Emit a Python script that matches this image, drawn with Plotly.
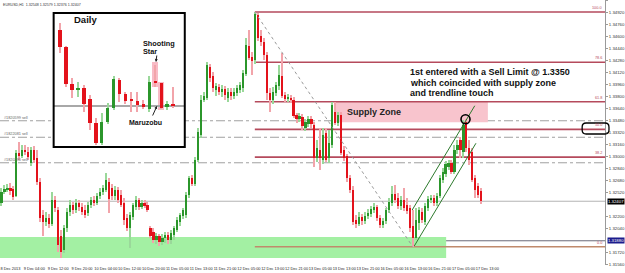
import plotly.graph_objects as go

# ---------------- data ----------------
SYMBOL = "EURUSD,H1"
TIME_LABELS = ["8 Dec 2013", "9 Dec 04:00", "9 Dec 12:00", "9 Dec 20:00", "10 Dec 04:00",
               "10 Dec 12:00", "10 Dec 20:00", "11 Dec 05:00", "11 Dec 13:00", "11 Dec 21:00",
               "12 Dec 05:00", "12 Dec 13:00", "12 Dec 21:00", "13 Dec 05:00", "13 Dec 13:00",
               "13 Dec 21:00", "16 Dec 05:00", "16 Dec 13:00", "16 Dec 21:00", "17 Dec 05:00",
               "17 Dec 13:00"]
LABEL_STEP = 8  # one time label every 8 hourly bars

OPEN = [1.3238, 1.3253, 1.3257, 1.3258, 1.3257, 1.3248, 1.3305, 1.3301, 1.3309, 1.3306,
        1.3292, 1.3309, 1.3298, 1.3266, 1.3222, 1.3213, 1.3218, 1.3210, 1.3242, 1.3229,
        1.3194, 1.3176, 1.3205, 1.3226, 1.3236, 1.3229, 1.3238, 1.3233, 1.3229, 1.3225,
        1.3236, 1.3242, 1.3238, 1.3248, 1.3253, 1.3256, 1.3266, 1.3258, 1.3248, 1.3256,
        1.3249, 1.3238, 1.3218, 1.3205, 1.3220, 1.3233, 1.3242, 1.3233, 1.3238, 1.3236,
        1.3205, 1.3200, 1.3189, 1.3194, 1.3186, 1.3192, 1.3196, 1.3189, 1.3196, 1.3202,
        1.3213, 1.3221, 1.3222, 1.3249, 1.3272, 1.3264, 1.3296, 1.3329, 1.3376, 1.3378,
        1.3420, 1.3408, 1.3389, 1.3393, 1.3386, 1.3390, 1.3378, 1.3386, 1.3381, 1.3385,
        1.3389, 1.3392, 1.3410, 1.3448, 1.3433, 1.3429, 1.3489, 1.3461, 1.3453, 1.3436,
        1.3385, 1.3376, 1.3385, 1.3394, 1.3408, 1.3382, 1.3377, 1.3378, 1.3376, 1.3356,
        1.3350, 1.3353, 1.3338, 1.3344, 1.3350, 1.3342, 1.3298, 1.3309, 1.3296, 1.3332,
        1.3298, 1.3316, 1.3360, 1.3345, 1.3356, 1.3309, 1.3301, 1.3272, 1.3256, 1.3216,
        1.3210, 1.3220, 1.3214, 1.3221, 1.3224, 1.3229, 1.3233, 1.3218, 1.3209, 1.3214,
        1.3229, 1.3238, 1.3250, 1.3245, 1.3234, 1.3242, 1.3236, 1.3232, 1.3208, 1.3192,
        1.3212, 1.3226, 1.3213, 1.3232, 1.3242, 1.3245, 1.3238, 1.3248, 1.3269, 1.3277,
        1.3286, 1.3292, 1.3280, 1.3309, 1.3322, 1.3306, 1.3346, 1.3312, 1.3306, 1.3272,
        1.3261, 1.32548]
HIGH = [1.3258, 1.3262, 1.3264, 1.3265, 1.3261, 1.3309, 1.3320, 1.3316, 1.3316, 1.3313,
        1.3313, 1.3314, 1.3309, 1.3272, 1.3229, 1.3226, 1.3224, 1.3253, 1.3248, 1.3233,
        1.3202, 1.3209, 1.3232, 1.3242, 1.3240, 1.3244, 1.3242, 1.3238, 1.3236, 1.3240,
        1.3246, 1.3248, 1.3252, 1.3258, 1.3262, 1.3278, 1.3272, 1.3264, 1.3261, 1.3260,
        1.3256, 1.3245, 1.3224, 1.3226, 1.3238, 1.3248, 1.3245, 1.3242, 1.3242, 1.3240,
        1.3208, 1.3205, 1.3198, 1.3197, 1.3197, 1.3200, 1.3200, 1.3202, 1.3208, 1.3220,
        1.3225, 1.3232, 1.3253, 1.3274, 1.3276, 1.3300, 1.3338, 1.3382, 1.3386, 1.3426,
        1.3424, 1.3413, 1.3398, 1.3397, 1.3396, 1.3394, 1.3392, 1.3392, 1.3392, 1.3396,
        1.3400, 1.3416, 1.3458, 1.3469, 1.3440, 1.3493, 1.3492, 1.3469, 1.3458, 1.3440,
        1.3392, 1.3393, 1.3400, 1.3422, 1.3438, 1.3386, 1.3384, 1.3382, 1.3380, 1.3358,
        1.3358, 1.3357, 1.3350, 1.3354, 1.3354, 1.3346, 1.3322, 1.3338, 1.3338, 1.3338,
        1.3336, 1.3373, 1.3373, 1.3360, 1.3360, 1.3314, 1.3304, 1.3276, 1.3261, 1.3222,
        1.3226, 1.3224, 1.3226, 1.3230, 1.3234, 1.3238, 1.3236, 1.3222, 1.3218, 1.3232,
        1.3245, 1.3261, 1.3262, 1.3252, 1.3248, 1.3258, 1.3245, 1.3236, 1.3229, 1.3232,
        1.3233, 1.3232, 1.3238, 1.3248, 1.3249, 1.3249, 1.3252, 1.3276, 1.3285, 1.3294,
        1.3296, 1.3296, 1.3316, 1.3322, 1.3326, 1.3349, 1.3350, 1.3322, 1.3312, 1.3276,
        1.3265, 1.32579]
LOW = [1.3234, 1.3250, 1.3253, 1.3249, 1.3242, 1.3246, 1.3296, 1.3298, 1.3302, 1.3296,
       1.3288, 1.3292, 1.3262, 1.3213, 1.3194, 1.3208, 1.3205, 1.3208, 1.3226, 1.3173,
       1.3165, 1.3172, 1.3200, 1.3221, 1.3224, 1.3225, 1.3228, 1.3222, 1.3218, 1.3221,
       1.3232, 1.3234, 1.3236, 1.3244, 1.3249, 1.3253, 1.3225, 1.3242, 1.3242, 1.3238,
       1.3233, 1.3209, 1.3201, 1.3178, 1.3216, 1.3229, 1.3229, 1.3230, 1.3232, 1.3226,
       1.3192, 1.3185, 1.3184, 1.3181, 1.3182, 1.3185, 1.3184, 1.3184, 1.3189, 1.3200,
       1.3208, 1.3217, 1.3218, 1.3245, 1.3261, 1.3261, 1.3293, 1.3325, 1.3373, 1.3376,
       1.3400, 1.3386, 1.3381, 1.3382, 1.3380, 1.3376, 1.3373, 1.3376, 1.3377, 1.3381,
       1.3385, 1.3386, 1.3408, 1.3429, 1.3409, 1.3424, 1.3454, 1.3448, 1.3429, 1.3376,
       1.3360, 1.3370, 1.3381, 1.3389, 1.3378, 1.3373, 1.3373, 1.3372, 1.3352, 1.3345,
       1.3346, 1.3336, 1.3334, 1.3340, 1.3338, 1.3286, 1.3293, 1.3282, 1.3290, 1.3293,
       1.3292, 1.3312, 1.3342, 1.3341, 1.3302, 1.3294, 1.3266, 1.3252, 1.3209, 1.3205,
       1.3208, 1.3209, 1.3210, 1.3217, 1.3220, 1.3225, 1.3214, 1.3205, 1.3205, 1.3210,
       1.3225, 1.3234, 1.3238, 1.3230, 1.3229, 1.3228, 1.3224, 1.3200, 1.3180, 1.3189,
       1.3202, 1.3212, 1.3209, 1.3228, 1.3238, 1.3234, 1.3234, 1.3245, 1.3265, 1.3273,
       1.3282, 1.3277, 1.3277, 1.3304, 1.3298, 1.3298, 1.3306, 1.3289, 1.3266, 1.3245,
       1.3245, 1.32376]
CLOSE = [1.3253, 1.3257, 1.3258, 1.3254, 1.3246, 1.3305, 1.3301, 1.3309, 1.3306, 1.3300,
         1.3309, 1.3296, 1.3266, 1.3218, 1.3213, 1.3218, 1.3210, 1.3242, 1.3232, 1.3182,
         1.3173, 1.3205, 1.3226, 1.3236, 1.3229, 1.3238, 1.3233, 1.3226, 1.3222, 1.3236,
         1.3242, 1.3238, 1.3248, 1.3253, 1.3258, 1.3269, 1.3244, 1.3248, 1.3256, 1.3242,
         1.3236, 1.3216, 1.3205, 1.3222, 1.3236, 1.3242, 1.3233, 1.3238, 1.3234, 1.3229,
         1.3194, 1.3189, 1.3194, 1.3186, 1.3192, 1.3196, 1.3189, 1.3198, 1.3205, 1.3216,
         1.3222, 1.3229, 1.3249, 1.3272, 1.3264, 1.3296, 1.3333, 1.3376, 1.3381, 1.3422,
         1.3405, 1.3392, 1.3394, 1.3386, 1.3390, 1.3382, 1.3386, 1.3381, 1.3386, 1.3392,
         1.3396, 1.3412, 1.3449, 1.3432, 1.3428, 1.3490, 1.3458, 1.3453, 1.3436, 1.3385,
         1.3376, 1.3386, 1.3396, 1.3409, 1.3381, 1.3377, 1.3380, 1.3376, 1.3354, 1.3350,
         1.3354, 1.3341, 1.3346, 1.3350, 1.3344, 1.3298, 1.3312, 1.3298, 1.3329, 1.3296,
         1.3318, 1.3369, 1.3345, 1.3356, 1.3305, 1.3298, 1.3272, 1.3256, 1.3213, 1.3210,
         1.3220, 1.3214, 1.3221, 1.3225, 1.3230, 1.3233, 1.3218, 1.3209, 1.3214, 1.3229,
         1.3240, 1.3250, 1.3242, 1.3234, 1.3242, 1.3232, 1.3228, 1.3205, 1.3192, 1.3216,
         1.3229, 1.3216, 1.3234, 1.3244, 1.3245, 1.3238, 1.3248, 1.3272, 1.3280, 1.3290,
         1.3292, 1.3280, 1.3309, 1.3316, 1.3309, 1.3342, 1.3312, 1.3296, 1.3269, 1.3256,
         1.3249, 1.32407]

# price-axis labels shown (the values hidden under the two price boxes are not drawn)
Y_TICKS = [1.3508, 1.3492, 1.3476, 1.3460, 1.3444, 1.3428, 1.3412, 1.3396, 1.3380, 1.3364,
           1.3348, 1.3332, 1.3316, 1.3300, 1.3284, 1.3268, 1.3252, 1.3220, 1.3204,
           1.3172, 1.3156]
Y_RANGE = [1.31557, 1.3509]
X_RANGE = [-0.5, 202.5]

FIB_HIGH_BAR, FIB_LOW_BAR = 85, 138
FIB_LEVELS = [0.0, 38.2, 50.0, 61.8, 78.6, 100.0]

ORDER_PRICES = [1.3348, 1.3326, 1.3292]
ORDER_TICKETS = ["#1820599 sell", "#1822081 sell", "#1820290 sell"]
ALERT_LEVEL = 1.3188

DEMAND_ZONE_BARS = [-0.5, 149.2]
DEMAND_ZONE_PRICES = [1.3165, 1.3193]
SUPPLY_ZONE_BARS = [111.8, 163.2]
SUPPLY_ZONE_PRICES = [1.3346, 1.3374]

TREND_UPPER_BARS = [137.8, 158.8]
TREND_UPPER_PRICES = [1.3229, 1.3368]
TREND_LOWER_BARS = [138.5, 159.2]
TREND_LOWER_PRICES = [1.3181, 1.3318]
ENTRY_BAR, ENTRY_PRICE = 155.7, 1.3350

# daily inset
D_OPEN = [1.3620, 1.3535, 1.3350, 1.3320, 1.3330, 1.3275, 1.3155, 1.3055, 1.3160, 1.3230,
          1.3370, 1.3300, 1.3270, 1.3265, 1.3250, 1.3225, 1.3360, 1.3355, 1.3235, 1.3250]
D_HIGH = [1.3655, 1.3540, 1.3380, 1.3360, 1.3345, 1.3295, 1.3180, 1.3205, 1.3255, 1.3390,
          1.3380, 1.3310, 1.3310, 1.3310, 1.3270, 1.3390, 1.3445, 1.3355, 1.3265, 1.3335]
D_LOW = [1.3505, 1.3335, 1.3280, 1.3285, 1.3210, 1.3120, 1.3045, 1.3045, 1.3150, 1.3220,
         1.3260, 1.3250, 1.3210, 1.3210, 1.3225, 1.3210, 1.3335, 1.3225, 1.3220, 1.3230]
D_CLOSE = [1.3535, 1.3350, 1.3320, 1.3330, 1.3250, 1.3155, 1.3055, 1.3160, 1.3230, 1.3375,
           1.3300, 1.3265, 1.3265, 1.3245, 1.3235, 1.3360, 1.3355, 1.3230, 1.3250, 1.3240]
D_REF = 1.3240
D_X_RANGE = [-1, 21]
D_Y_RANGE = [1.3035, 1.3705]
SHOOTING_STAR = dict(x=[15.45, 16.45], y=[1.3335, 1.3460])
MARUZOBU = dict(x=[16.4, 17.5], y=[1.3220, 1.3360])

# ---------------- styles ----------------
FONT = "Arial, Liberation Sans, sans-serif"
BULL, BEAR = "#2b962b", "#e3121b"
BULL_WICK, BEAR_WICK = "#9ad89a", "#f2a4aa"
FIB_COLOR = "#b54a5c"
PW, PH = 609.0, 265.0


def px(x):
    return x / PW


def py(y):
    return 1 - y / PH


def candle_traces(o, h, l, c, xs, body_w, wick_w, xa, ya, min_body):
    n = len(xs)
    up = [c[i] >= o[i] for i in range(n)]
    wick = go.Bar(x=xs, y=[h[i] - l[i] for i in range(n)], base=l, width=wick_w,
                  marker=dict(color=[BULL_WICK if u else BEAR_WICK for u in up], line=dict(width=0)),
                  xaxis=xa, yaxis=ya, hoverinfo="skip")
    body = go.Bar(x=xs, y=[max(abs(c[i] - o[i]), min_body) for i in range(n)],
                  base=[min(o[i], c[i]) for i in range(n)], width=body_w,
                  marker=dict(color=[BULL if u else BEAR for u in up], line=dict(width=0)),
                  xaxis=xa, yaxis=ya, hoverinfo="skip")
    return [wick, body]


def rect_bar(xr, yr, color, xa, ya):
    return go.Bar(x=[(xr[0] + xr[1]) / 2], y=[yr[1] - yr[0]], base=[yr[0]], width=xr[1] - xr[0],
                  marker=dict(color=color, line=dict(width=0)), xaxis=xa, yaxis=ya, hoverinfo="skip")


fig = go.Figure()

bars = list(range(len(OPEN)))
for t in candle_traces(OPEN, HIGH, LOW, CLOSE, bars, 0.72, 0.36, "x", "y", 0.00008):
    fig.add_trace(t)

# trend channel
for bx, pr in ((TREND_UPPER_BARS, TREND_UPPER_PRICES), (TREND_LOWER_BARS, TREND_LOWER_PRICES)):
    fig.add_trace(go.Scatter(x=bx, y=pr, mode="lines", line=dict(color="#2d7a2d", width=1),
                             hoverinfo="skip"))
# fib diagonal
fib_hi, fib_lo = HIGH[FIB_HIGH_BAR], LOW[FIB_LOW_BAR]
fig.add_trace(go.Scatter(x=[FIB_HIGH_BAR, FIB_LOW_BAR], y=[fib_hi, fib_lo], mode="lines",
                         line=dict(color="#9a9a9a", width=1, dash="dot"), hoverinfo="skip"))
# entry circle
fig.add_trace(go.Scatter(x=[ENTRY_BAR], y=[ENTRY_PRICE], mode="markers",
                         marker=dict(symbol="circle-open", size=9, color="black", line=dict(width=1.6)),
                         hoverinfo="skip"))

# ---------------- inset (daily) ----------------
fig.add_trace(rect_bar(D_X_RANGE, D_Y_RANGE, "white", "x2", "y2"))
for hl in (SHOOTING_STAR, MARUZOBU):
    fig.add_trace(rect_bar(hl["x"], hl["y"], "rgba(246,170,184,0.8)", "x2", "y2"))
fig.add_trace(rect_bar(D_X_RANGE, [D_REF - 0.0002, D_REF + 0.0002], "#a8a8a8", "x2", "y2"))
for t in candle_traces(D_OPEN, D_HIGH, D_LOW, D_CLOSE, list(range(len(D_OPEN))), 0.6, 0.2, "x2", "y2", 0.0006):
    fig.add_trace(t)

# ---------------- shapes ----------------
shapes = []
shapes.append(dict(type="rect", xref="x", yref="y", x0=DEMAND_ZONE_BARS[0], x1=DEMAND_ZONE_BARS[1],
                   y0=DEMAND_ZONE_PRICES[0], y1=DEMAND_ZONE_PRICES[1], fillcolor="#a3f0a3",
                   line=dict(width=0), layer="below"))
shapes.append(dict(type="rect", xref="x", yref="y", x0=SUPPLY_ZONE_BARS[0], x1=SUPPLY_ZONE_BARS[1],
                   y0=SUPPLY_ZONE_PRICES[0], y1=SUPPLY_ZONE_PRICES[1], fillcolor="#f8c4cd",
                   line=dict(width=0), layer="below"))
for p in ORDER_PRICES:
    shapes.append(dict(type="line", xref="paper", yref="y", x0=0, x1=1, y0=p, y1=p,
                       line=dict(color="#a0a0a0", width=1, dash="dashdot"), layer="below"))
shapes.append(dict(type="line", xref="paper", yref="y", x0=0, x1=1, y0=CLOSE[-1], y1=CLOSE[-1],
                   line=dict(color="#b4b4b4", width=1), layer="below"))
shapes.append(dict(type="line", xref="paper", yref="y", x0=0, x1=1, y0=ALERT_LEVEL, y1=ALERT_LEVEL,
                   line=dict(color="#6a6a78", width=1), layer="below"))
for lev in FIB_LEVELS:
    p = fib_lo + (fib_hi - fib_lo) * lev / 100.0
    shapes.append(dict(type="line", xref="x", yref="y", x0=FIB_HIGH_BAR, x1=X_RANGE[1], y0=p, y1=p,
                       line=dict(color=FIB_COLOR if lev > 0 else "#c08a6c", width=1.6), layer="below"))
# inset border
shapes.append(dict(type="rect", xref="paper", yref="paper", x0=px(54), x1=px(186), y0=py(147), y1=py(13),
                   line=dict(color="black", width=2), fillcolor="rgba(0,0,0,0)"))
# rounded label box at the 50.0 level
x0, x1, y0, y1, r = px(586), px(613), py(134), py(123), 4
rx, ry = r / PW, r / PH
shapes.append(dict(type="path", xref="paper", yref="paper",
                   path=(f"M {x0+rx} {y1} L {x1-rx} {y1} Q {x1} {y1} {x1} {y1-ry} L {x1} {y0+ry} "
                         f"Q {x1} {y0} {x1-rx} {y0} L {x0+rx} {y0} Q {x0} {y0} {x0} {y0+ry} "
                         f"L {x0} {y1-ry} Q {x0} {y1} {x0+rx} {y1} Z"),
                   line=dict(color="black", width=1.3)))

# ---------------- annotations ----------------
ann = []
ann.append(dict(text=f"{SYMBOL}  {OPEN[-1]:.5f} {HIGH[-1]:.5f} {LOW[-1]:.5f} {CLOSE[-1]:.5f}",
                xref="paper", yref="paper", x=px(1), y=py(0.5), xanchor="left", yanchor="top",
                showarrow=False, font=dict(family=FONT, size=3.6, color="#333")))
for p, t in zip(ORDER_PRICES, ORDER_TICKETS):
    ann.append(dict(text=t, xref="paper", yref="y", x=px(2), y=p, xanchor="left", yanchor="bottom",
                    showarrow=False, font=dict(family=FONT, size=3.8, color="#666"), yshift=-1))
for lev in FIB_LEVELS:
    p = fib_lo + (fib_hi - fib_lo) * lev / 100.0
    ann.append(dict(text=f"{lev:.1f}", xref="paper", yref="y", x=1, y=p, xanchor="right", yanchor="bottom",
                    showarrow=False, font=dict(family=FONT, size=3.8, color=FIB_COLOR), xshift=-1))
ann.append(dict(text=f"{CLOSE[-1]:.5f}", xref="paper", yref="y", x=1, y=CLOSE[-1], xanchor="left",
                yanchor="middle", showarrow=False, bgcolor="black", borderpad=0,
                font=dict(family=FONT, size=4.3, color="white"), xshift=2))
ann.append(dict(text=f"{ALERT_LEVEL:.5f}", xref="paper", yref="y", x=1, y=ALERT_LEVEL, xanchor="left",
                yanchor="middle", showarrow=False, bgcolor="#1c1c8c", borderpad=0,
                font=dict(family=FONT, size=4.3, color="white"), xshift=2))
bold = dict(family=FONT, size=9, color="#111")
ann.append(dict(text="<b>Supply Zone</b>", xref="paper", yref="paper", x=px(347), y=py(112),
                xanchor="left", yanchor="middle", showarrow=False, font=dict(family=FONT, size=9, color="#222")))
for k, line in enumerate(["1st entered with a Sell Limit @ 1.3350", "which coincided with supply zone",
                          "and trendline touch"]):
    ann.append(dict(text=f"<b>{line}</b>", xref="paper", yref="paper", x=px(411), y=py(72 + 10.5 * k),
                    xanchor="left", yanchor="middle", showarrow=False, font=bold))
ann.append(dict(text="<b>Daily</b>", xref="paper", yref="paper", x=px(72), y=py(20), xanchor="left",
                yanchor="middle", showarrow=False, font=dict(family=FONT, size=9.5, color="#111")))
ann.append(dict(text="<b>Shooting</b>", xref="paper", yref="paper", x=px(142), y=py(44), xanchor="left",
                yanchor="middle", showarrow=False, font=dict(family=FONT, size=7.3, color="#111")))
ann.append(dict(text="<b>Star</b>", xref="paper", yref="paper", x=px(142), y=py(52), xanchor="left",
                yanchor="middle", showarrow=False, font=dict(family=FONT, size=7.3, color="#111")))
ann.append(dict(text="<b>Maruzobu</b>", xref="paper", yref="paper", x=px(128), y=py(122), xanchor="left",
                yanchor="middle", showarrow=False, font=dict(family=FONT, size=7, color="#111")))
ann.append(dict(text="", xref="paper", yref="paper", x=px(157), y=py(62), ax=1, ay=-8, showarrow=True,
                arrowhead=2, arrowsize=0.6, arrowwidth=1, arrowcolor="#222"))
ann.append(dict(text="", xref="paper", yref="paper", x=px(158), y=py(106), ax=-5, ay=11, showarrow=True,
                arrowhead=2, arrowsize=0.6, arrowwidth=1, arrowcolor="#222"))

fig.update_layout(
    width=625, height=273, margin=dict(l=0, r=16, t=0, b=8),
    paper_bgcolor="white", plot_bgcolor="white", showlegend=False, barmode="overlay", bargap=0,
    shapes=shapes, annotations=ann,
    xaxis=dict(range=X_RANGE, showgrid=False, zeroline=False, showline=False,
               tickvals=[k * LABEL_STEP for k in range(len(TIME_LABELS))], ticktext=TIME_LABELS,
               tickangle=0, ticks="", ticklabelshift=9, ticklabelstandoff=0,
               tickfont=dict(family=FONT, size=3.9, color="#222")),
    yaxis=dict(side="right", range=Y_RANGE, tickvals=Y_TICKS, ticktext=[f"{v:.5f}" for v in Y_TICKS],
               showgrid=False, zeroline=False, showline=True, linecolor="#9a9a9a", linewidth=1,
               ticks="outside", ticklen=2, tickcolor="#9a9a9a", ticklabelstandoff=0,
               tickfont=dict(family=FONT, size=4.3, color="#333")),
    xaxis2=dict(domain=[px(54), px(186)], anchor="y2", range=D_X_RANGE, visible=False),
    yaxis2=dict(domain=[py(147), py(13)], anchor="x2", range=D_Y_RANGE, visible=False),
)

fig.write_html("out.html")
